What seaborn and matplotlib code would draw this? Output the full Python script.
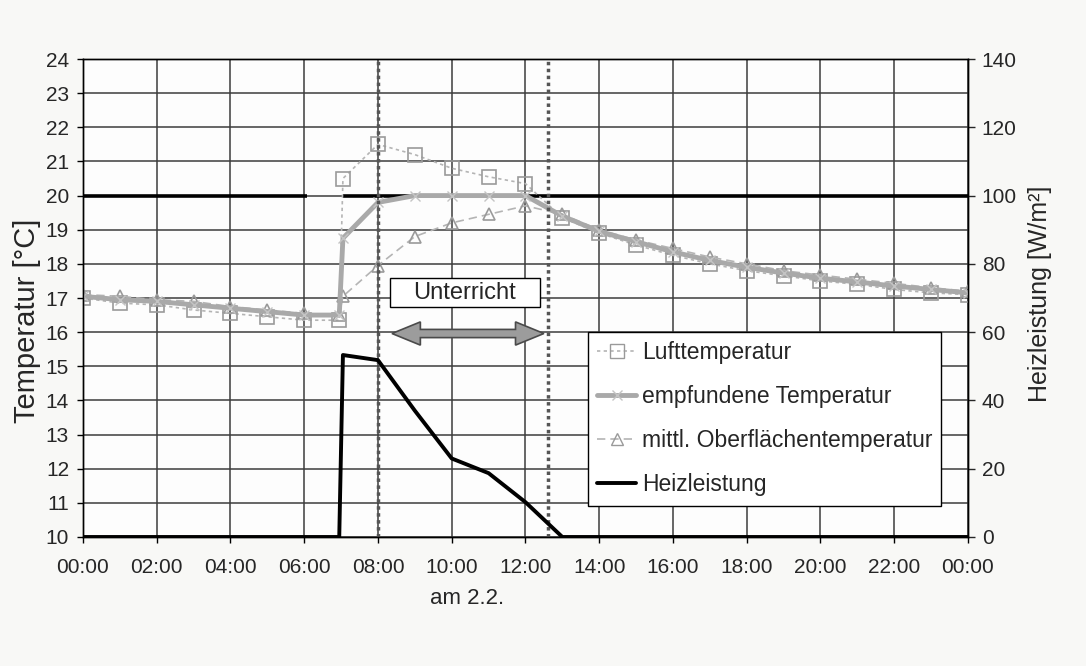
import matplotlib
matplotlib.use("Agg")
import matplotlib.pyplot as plt
import matplotlib.patches as mpatches
from matplotlib.lines import Line2D
import seaborn as sns

# time of day in hours (two points around 07:00 for the heating start)
hours = [0, 1, 2, 3, 4, 5, 6, 6.95, 7.05, 8, 9, 10, 11, 12,
         13, 14, 15, 16, 17, 18, 19, 20, 21, 22, 23, 24]

luft = [17.0, 16.85, 16.8, 16.65, 16.55, 16.45, 16.35, 16.35, 20.5, 21.5, 21.2, 20.8, 20.55, 20.35,
        19.35, 18.9, 18.55, 18.25, 18.0, 17.8, 17.65, 17.5, 17.4, 17.25, 17.15, 17.1]
empfunden = [17.05, 16.95, 16.9, 16.8, 16.7, 16.6, 16.5, 16.5, 18.75, 19.8, 20.0, 20.0, 20.0, 20.0,
             19.4, 18.95, 18.65, 18.35, 18.1, 17.9, 17.73, 17.58, 17.47, 17.35, 17.25, 17.15]
oberflaeche = [17.1, 17.05, 16.95, 16.9, 16.75, 16.65, 16.55, 16.5, 17.05, 17.95, 18.8, 19.2, 19.45, 19.7,
               19.45, 19.0, 18.7, 18.45, 18.2, 18.0, 17.8, 17.67, 17.55, 17.43, 17.3, 17.2]
heizleistung = [0, 0, 0, 0, 0, 0, 0, 0, 53.3, 51.8, 37.0, 23.0, 18.7, 10.2,
                0, 0, 0, 0, 0, 0, 0, 0, 0, 0, 0, 0]

sollwert = 20.0
sollwert_spans = [(0, 6.07), (7.05, 24)]
unterricht_start = 8.0
unterricht_end = 12.6

xticks = list(range(0, 25, 2))
xticklabels = ["%02d:00" % (h % 24) for h in xticks]

sns.set_style("white")
plt.rcParams["font.family"] = ["Liberation Sans", "DejaVu Sans"]

fig = plt.figure(figsize=(10.86, 6.66), dpi=100, facecolor="#f8f8f6")
ax = fig.add_axes([0.0764, 0.1937, 0.8149, 0.7177])
ax.set_facecolor("#fdfdfd")

# setpoint line
for x0, x1 in sollwert_spans:
    ax.hlines(sollwert, x0, x1, color="black", lw=2.6, zorder=3)

sns.lineplot(x=hours, y=luft, ax=ax, color="#b4b4b4", lw=1.2, linestyle=(0, (2, 2)),
             marker="s", markersize=10, markerfacecolor="none", markeredgecolor="#9a9a9a",
             markeredgewidth=1.2, estimator=None, zorder=4)
sns.lineplot(x=hours, y=oberflaeche, ax=ax, color="#b4b4b4", lw=1.2, linestyle=(0, (5, 3)),
             marker="^", markersize=9, markerfacecolor="none", markeredgecolor="#9a9a9a",
             markeredgewidth=1.2, estimator=None, zorder=4)
sns.lineplot(x=hours, y=empfunden, ax=ax, color="#a9a9a9", lw=3.5,
             marker="x", markersize=7, markeredgecolor="#c4c4c4", markeredgewidth=1.0,
             estimator=None, zorder=5)

for xv in (unterricht_start, unterricht_end):
    ax.axvline(xv, color="#555555", lw=2.5, linestyle=(0, (1, 1)), zorder=6)

ax.set_xlim(0, 24)
ax.set_ylim(10, 24)
ax.set_xticks(xticks)
ax.set_xticklabels(xticklabels)
ax.set_yticks(range(10, 25))
ax.grid(True, color="#3c3c3c", lw=1.1)
ax.set_axisbelow(True)
ax.tick_params(axis="both", labelsize=15, length=4, width=1, color="black", direction="out",
               left=True, bottom=True)
ax.tick_params(axis="x", pad=11)
ax.tick_params(axis="y", pad=6)
ax.text(0.434, -0.128, "am 2.2.", transform=ax.transAxes, ha="center", va="center", fontsize=16)
ax.text(-0.063, 0.452, "Temperatur [°C]", transform=ax.transAxes, ha="center", va="center",
        rotation=90, fontsize=21)
for sp in ax.spines.values():
    sp.set_color("black")
    sp.set_linewidth(1.0)

# "Unterricht" box and double arrow
ax.add_patch(mpatches.Rectangle((8.33, 16.74), 4.06, 0.86, facecolor="white",
                                edgecolor="black", lw=1.0, zorder=7))
ax.text(10.36, 17.15, "Unterricht", ha="center", va="center", fontsize=17, zorder=8)

ax_l, ax_r, y_c = 8.38, 12.5, 15.96
hl, hw, sw = 0.77, 0.34, 0.12
arrow = mpatches.Polygon([(ax_l, y_c), (ax_l + hl, y_c + hw), (ax_l + hl, y_c + sw),
                          (ax_r - hl, y_c + sw), (ax_r - hl, y_c + hw), (ax_r, y_c),
                          (ax_r - hl, y_c - hw), (ax_r - hl, y_c - sw), (ax_l + hl, y_c - sw),
                          (ax_l + hl, y_c - hw)], closed=True,
                         facecolor="#9c9c9c", edgecolor="#4a4a4a", lw=1.2, zorder=7)
ax.add_patch(arrow)

# right axis: heating power
ax2 = ax.twinx()
sns.lineplot(x=hours, y=heizleistung, ax=ax2, color="black", lw=2.8, estimator=None)
ax2.set_ylim(0, 140)
ax2.set_yticks(range(0, 141, 20))
ax2.tick_params(axis="y", labelsize=15, length=5, width=1, direction="out", right=True, pad=5)
ax2.set_ylabel("")
ax2.text(1.081, 0.509, "Heizleistung [W/m²]", transform=ax2.transAxes, ha="center", va="center",
         rotation=90, fontsize=18)
ax2.grid(False)
for sp in ax2.spines.values():
    sp.set_color("black")
    sp.set_linewidth(1.0)

handles = [
    Line2D([], [], color="#b4b4b4", lw=1.2, linestyle=(0, (2, 2)), marker="s", markersize=10,
           markerfacecolor="none", markeredgecolor="#9a9a9a"),
    Line2D([], [], color="#a9a9a9", lw=3.5, marker="x", markersize=7, markeredgecolor="#c4c4c4"),
    Line2D([], [], color="#b4b4b4", lw=1.2, linestyle=(0, (5, 3)), marker="^", markersize=9,
           markerfacecolor="none", markeredgecolor="#9a9a9a"),
    Line2D([], [], color="black", lw=2.8),
]
labels = ["Lufttemperatur", "empfundene Temperatur", "mittl. Oberflächentemperatur", "Heizleistung"]
leg = ax2.legend(handles, labels, loc="upper left", bbox_to_anchor=(0.5706, 0.4289),
                 fontsize=16.5, frameon=True, fancybox=False, framealpha=1, edgecolor="black",
                 labelspacing=0.92, handlelength=1.7, handletextpad=0.25, borderpad=0.4,
                 borderaxespad=0)
leg.get_frame().set_linewidth(1.0)

fig.savefig("out.png", dpi=100, facecolor=fig.get_facecolor())
